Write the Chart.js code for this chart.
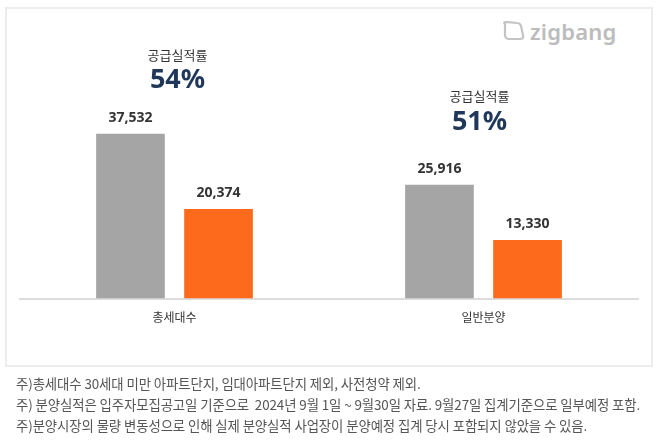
<!DOCTYPE html>
<html>
<head>
<meta charset="utf-8">
<script src="https://cdn.jsdelivr.net/npm/chart.js@4.4.1/dist/chart.umd.min.js"></script>
<style>
    html, body { margin: 0; padding: 0; background: #fff; }
    #wrap { position: relative; width: 658px; height: 446px; overflow: hidden; font-family: "Noto Sans CJK KR", "Noto Sans", sans-serif; }
    #box { position: absolute; left: 5px; top: 7px; width: 644px; height: 356px; border: 2px solid #ececec; }
    #logo { position: absolute; left: 500px; top: 17px; height: 28px; display: flex; align-items: center; color: #bcbcbc; }
    #logo span { font-family: "Noto Sans", sans-serif; font-size: 22px; font-weight: 600; margin-left: 4px; letter-spacing: 0.2px; }
    #chart { position: absolute; left: 0; top: 0; }
    .note { position: absolute; left: 16px; font-size: 13.4px; color: #555; white-space: nowrap; letter-spacing: -0.1px; }
</style>
</head>
<body>
<div id="wrap">
    <div id="box"></div>
    <div id="logo">
        <svg width="26" height="22" viewBox="0 0 26 22">
            <path d="M5 4 Q3 2 6 2 L17 3 Q20 3 21 6 L23 15 Q24 19 20 19 L9 19 Q6 19 5 16 Z" fill="none" stroke="#c4c4c4" stroke-width="2.2" stroke-linejoin="round"/>
            <path d="M11 9 L16 14" stroke="#fff" stroke-width="3"/>
        </svg>
        <span>zigbang</span>
    </div>
    <canvas id="chart" width="658" height="446"></canvas>
    <div class="note" style="top:373px">주)총세대수 30세대 미만 아파트단지, 임대아파트단지 제외, 사전청약 제외.</div>
    <div class="note" style="top:394px">주) 분양실적은 입주자모집공고일 기준으로&nbsp; 2024년 9월 1일 ~ 9월30일 자료. 9월27일 집계기준으로 일부예정 포함.</div>
    <div class="note" style="top:415px">주)분양시장의 물량 변동성으로 인해 실제 분양실적 사업장이 분양예정 집계 당시 포함되지 않았을 수 있음.</div>
</div>
<script>
// data
var categories = ['총세대수', '일반분양'];
var totalPlan = [37532, 25916];   // gray
var totalDone = [20374, 13330];   // orange
var rates = [54, 51];
var rateTitle = '공급실적률';

var valueLabels = {
    id: 'valueLabels',
    afterDatasetsDraw: function (chart) {
        var ctx = chart.ctx;
        ctx.save();
        ctx.textAlign = 'center';
        ctx.textBaseline = 'middle';
        ctx.fillStyle = '#333';
        ctx.font = 'bold 14px "Noto Sans", sans-serif';
        chart.data.datasets.forEach(function (ds, d) {
            chart.getDatasetMeta(d).data.forEach(function (bar, i) {
                ctx.fillText(ds.data[i].toLocaleString('en-US'), bar.x, bar.y - 16);
            });
        });
        // 공급실적률 annotations
        var x = chart.scales.x;
        var titleY = [55, 96];
        var pctY = [80, 122];
        var dx = [3, -4];
        rates.forEach(function (r, i) {
            var cx = x.getPixelForValue(i) + dx[i];
            ctx.fillStyle = '#333';
            ctx.font = '13px "Noto Sans CJK KR", sans-serif';
            ctx.fillText(rateTitle, cx, titleY[i]);
            ctx.fillStyle = '#1f3759';
            ctx.font = 'bold 27px "Noto Sans", sans-serif';
            ctx.fillText(r + '%', cx, pctY[i]);
        });
        ctx.restore();
    }
};

new Chart(document.getElementById('chart'), {
    type: 'bar',
    data: {
        labels: categories,
        datasets: [
            { label: '총', data: totalPlan, backgroundColor: '#a5a5a5' },
            { label: '실적', data: totalDone, backgroundColor: '#fd6a1b' }
        ]
    },
    options: {
        responsive: false,
        animation: false,
        events: [],
        layout: { padding: { left: 20, right: 20, top: 35, bottom: 117 } },
        datasets: { bar: { categoryPercentage: 0.57, barPercentage: 0.78 } },
        plugins: { legend: { display: false }, tooltip: { enabled: false } },
        scales: {
            x: {
                grid: { display: false },
                border: { color: '#dcdcdc', width: 2 },
                ticks: { color: '#333', padding: 4, font: { family: '"Noto Sans CJK KR", sans-serif', size: 12 } }
            },
            y: { display: false, min: 0, max: 60000 }
        }
    },
    plugins: [valueLabels]
});
</script>
</body>
</html>
